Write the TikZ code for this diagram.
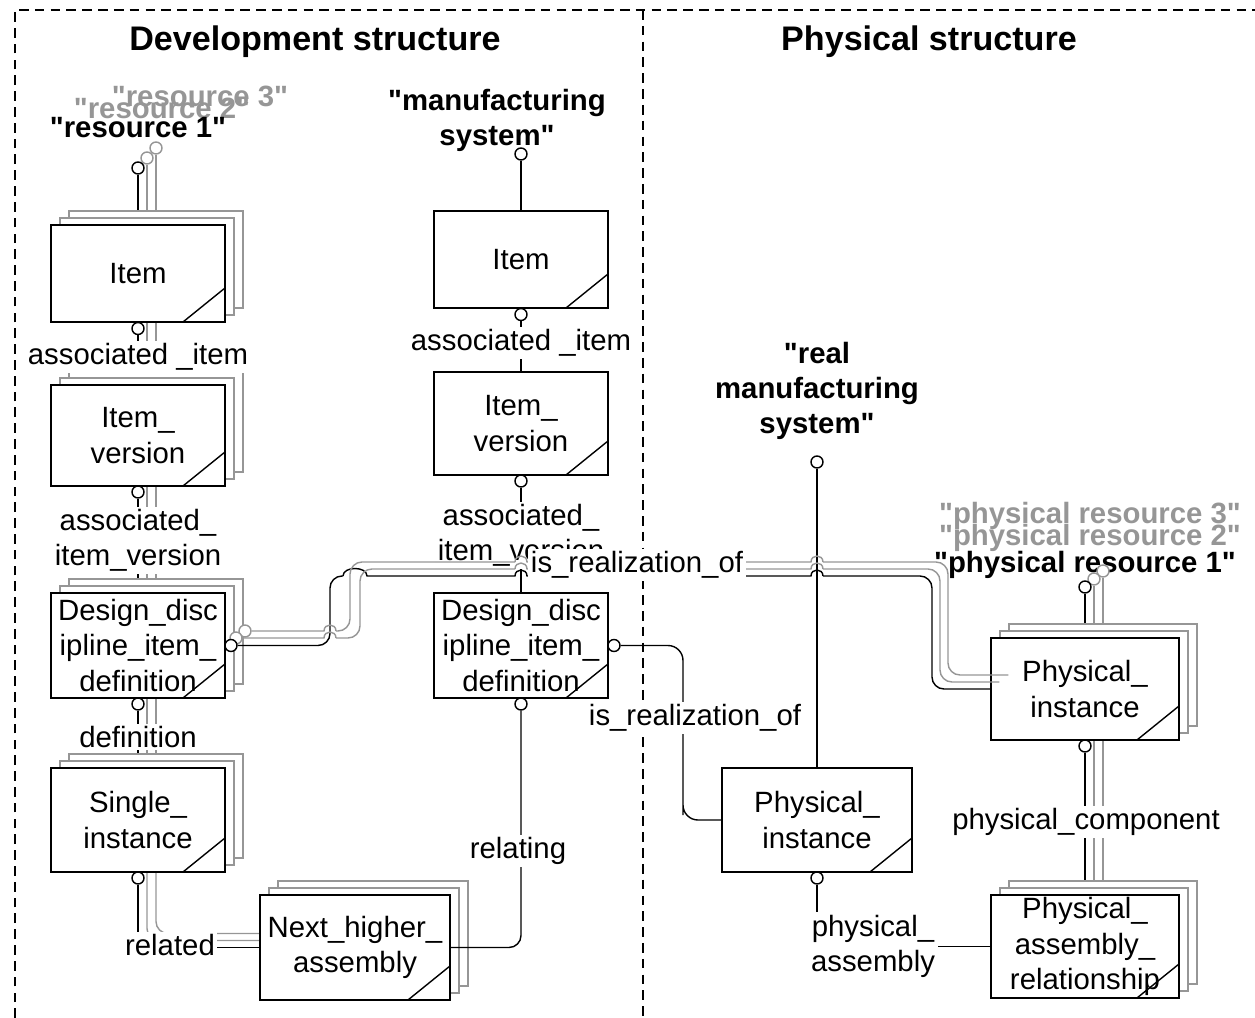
\documentclass[tikz,border=0pt]{standalone}
\usepackage{fontspec}
\setmainfont{Liberation Sans}[Ligatures=TeXOff]
\usepackage{tikz}
\usepackage{xcolor}
\definecolor{shd}{RGB}{150, 150, 150}
\newcommand{\rolefont}{\fontsize{16.7}{20}\selectfont}
\newcommand{\instfont}{\fontsize{16.7}{20}\selectfont\bfseries}
\newcommand{\headfont}{\fontsize{19.4}{23}\selectfont\bfseries}
\pgfdeclarelayer{bg}
\pgfsetlayers{bg,main}
\tikzset{
  entity/.style={draw, fill=white, line width=1pt, inner sep=0pt, align=center,
    minimum width=3.48cm, font=\rolefont,
    path picture={\draw[line width=0.8pt] ([xshift=-0.84cm]path picture bounding box.south east)
      -- ([yshift=0.68cm]path picture bounding box.south east);}},
  ghost/.style={draw=shd, fill=white, line width=0.8pt, inner sep=0pt, minimum width=3.48cm},
  port/.style={circle, draw, fill=white, line width=0.8pt, inner sep=0pt, minimum size=0.24cm},
  role/.style={fill=white, inner sep=1.5pt, align=center, font=\rolefont},
  inst/.style={inner sep=0pt, align=center, font=\instfont},
  link/.style={line width=0.8pt},
  glink/.style={line width=0.8pt, draw=shd},
  sepline/.style={line width=0.8pt, dash pattern=on 5.5pt off 3.5pt},
}
% stacked entity: name, x, y, size, text
\newcommand{\entstack}[5]{%
  \node[ghost, #4] (#1c) at (#2+18, #3-14) {};
  \node[ghost, #4] (#1b) at (#2+9, #3-7) {};
  \node[entity, #4] (#1) at (#2, #3) {#5};}

\begin{document}
\begin{tikzpicture}[x=0.02cm, y=-0.02cm]
  \useasboundingbox (0,0) rectangle (1255,1018);

  \node[font=\headfont] (devhead) at (315,42) {Development structure};
  \node[font=\headfont] (phyhead) at (929,42) {Physical structure};

  \node[inst, text=shd] (res3) at (200,96) {"resource 3"};
  \node[inst, text=shd] (res2) at (162,108) {"resource 2"};
  \node[inst] (res1) at (138,128) {"resource 1"};
  \node[inst] (mansys) at (497,120) {"manufacturing\\system"};
  \node[inst] (realsys) at (817,391) {"real\\manufacturing\\system"};
  \node[inst, text=shd] (pres3) at (1090,516) {"physical resource 3"};
  \node[inst, text=shd] (pres2) at (1090,538) {"physical resource 2"};
  \node[inst] (pres1) at (1085,565) {"physical resource 1"};

  % development structure
  \entstack{item}{138}{273.5}{minimum height=1.94cm}{Item}
  \entstack{ver}{138}{435.5}{minimum height=2.02cm}{Item\_\\version}
  \entstack{dsg}{138}{645.5}{minimum height=2.1cm}{Design\_disc\\ipline\_item\_\\definition}
  \entstack{sgl}{138}{820}{minimum height=2.08cm}{Single\_\\instance}
  \entstack{nha}{355}{947.5}{minimum width=3.8cm, minimum height=2.1cm}{Next\_higher\_\\assembly}
  \node[entity, minimum height=1.94cm] (msitem) at (521,259.5) {Item};
  \node[entity, minimum height=2.06cm] (msver) at (521,423.5) {Item\_\\version};
  \node[entity, minimum height=2.1cm] (msdsg) at (521,645.5) {Design\_disc\\ipline\_item\_\\definition};

  % physical structure
  \node[entity, minimum width=3.8cm, minimum height=2.08cm] (phys) at (817,820) {Physical\_\\instance};
  \entstack{rphys}{1085}{689}{minimum width=3.76cm, minimum height=2.04cm}{Physical\_\\instance}
  \entstack{par}{1085}{946.5}{minimum width=3.76cm, minimum height=2.06cm}{Physical\_\\assembly\_\\relationship}

  \node[port, draw=shd] (r3) at (156,148) {};
  \node[port, draw=shd] (r2) at (147,158) {};
  \node[port] (r1) at (138,168) {};
  \node[port] (itemp) at (138,328.5) {};
  \node[port] (verp) at (138,492) {};
  \node[port] (dsgp) at (138,704) {};
  \node[port] (sglp) at (138,878) {};
  \node[port, draw=shd] (dsgrc) at (245,631) {};
  \node[port, draw=shd] (dsgrb) at (236,638) {};
  \node[port] (dsgr) at (231,645.5) {};
  \node[port] (ms) at (521,154) {};
  \node[port] (msitemp) at (521,314.5) {};
  \node[port] (msverp) at (521,481) {};
  \node[port] (msdsgp) at (521,704) {};
  \node[port] (msdsgr) at (614,645.5) {};
  \node[port] (rms) at (817,462) {};
  \node[port] (physp) at (817,878) {};
  \node[port, draw=shd] (pr3) at (1103,571) {};
  \node[port, draw=shd] (pr2) at (1094,579) {};
  \node[port] (pr1) at (1085,587) {};
  \node[port] (rphysp) at (1085,746) {};

  \begin{pgfonlayer}{bg}
    \draw[sepline] (15,1018) -- (15,10) -- (1255,10);
    \draw[sepline] (643,10) -- (643,1018);
    \draw[link] (item.north) -- (r1);
    \draw[glink] (itemb.north) -- (r2);
    \draw[glink] (itemc.north) -- (r3);
    \draw[link] (itemp) -- (ver.north);
    \draw[glink] (itemb.south) -- (verb.north);
    \draw[glink] (itemc.south) -- (verc.north);
    \draw[link] (verp) -- (dsg.north);
    \draw[glink] (verb.south) -- (dsgb.north);
    \draw[glink] (verc.south) -- (dsgc.north);
    \draw[link] (dsgp) -- (sgl.north);
    \draw[glink] (dsgb.south) -- (sglb.north);
    \draw[glink] (dsgc.south) -- (sglc.north);
    \draw[link] (sglp) |- (nha.west);
    \draw[glink, rounded corners=0.24cm] (sglb.south) |- (nhab.west);
    \draw[glink, rounded corners=0.24cm] (sglc.south) |- (nhac.west);
    \draw[link] (ms) -- (msitem.north);
    \draw[link] (msitemp) -- (msver.north);
    \draw[link] (msverp) -- (msdsg.north);
    \draw[link] (rms) -- (phys.north);
    \draw[link] (physp) |- (par.west);
    \draw[link] (rphys.north) -- (pr1);
    \draw[glink] (rphysb.north) -- (pr2);
    \draw[glink] (rphysc.north) -- (pr3);
    \draw[link] (rphysp) -- (par.north);
    \draw[glink] (rphysb.south) -- (parb.north);
    \draw[glink] (rphysc.south) -- (parc.north);
  \end{pgfonlayer}

  \draw[link, rounded corners=0.24cm] (msdsgp) |- (nha.east);
  \draw[link, rounded corners=0.3cm] (msdsgr) -| (683,800) |- (phys.west);

  \node[role] (ai1) at (138,357) {associated \_item};
  \node[role] (aiv1) at (138,540.5) {associated\_\\item\_version};
  \node[role] (def1) at (138,737) {definition};
  \node[role] (rel) at (170,945) {related};
  \node[role] (ai2) at (521,343) {associated \_item};
  \node[role] (aiv2) at (521,535.5) {associated\_\\item\_version};
  \node[role] (relg) at (518,851) {relating};
  \node[role] (isr2) at (695,718) {is\_realization\_of};
  \node[role] (pcomp) at (1086,822) {physical\_component};
  \node[role] (passy) at (873,946) {physical\_\\assembly};

  % is_realization_of, with jumps over crossings
  \draw[link, rounded corners=0.24cm] (dsgr) -- (330,645.5) -- (330,576) -- (343,576);
  \draw[link] (343,576) .. controls (343,566) and (367,566) .. (367,576)
    -- (515,576) .. controls (515,568) and (527,568) .. (527,576)
    -- (811,576) .. controls (811,568) and (823,568) .. (823,576);
  \draw[link, rounded corners=0.24cm] (823,576) -- (932,576) |- (rphys.west);
  \draw[glink] (dsgrb) -- (324,638) .. controls (324,630) and (336,630) .. (336,638);
  \draw[glink, rounded corners=0.24cm] (336,638) -- (360,638) -- (360,569) -- (515,569);
  \draw[glink] (515,569) .. controls (515,561) and (527,561) .. (527,569)
    -- (811,569) .. controls (811,561) and (823,561) .. (823,569);
  \draw[glink, rounded corners=0.24cm] (823,569) -- (940,569) |- (rphysb.west);
  \draw[glink] (dsgrc) -- (324,631) .. controls (324,623) and (336,623) .. (336,631);
  \draw[glink, rounded corners=0.24cm] (336,631) -- (350,631) -- (350,562) -- (515,562);
  \draw[glink] (515,562) .. controls (515,554) and (527,554) .. (527,562)
    -- (811,562) .. controls (811,554) and (823,554) .. (823,562);
  \draw[glink, rounded corners=0.24cm] (823,562) -- (948,562) |- (rphysc.west);
  \node[role] (isr1) at (637,565) {is\_realization\_of};
\end{tikzpicture}
\end{document}
